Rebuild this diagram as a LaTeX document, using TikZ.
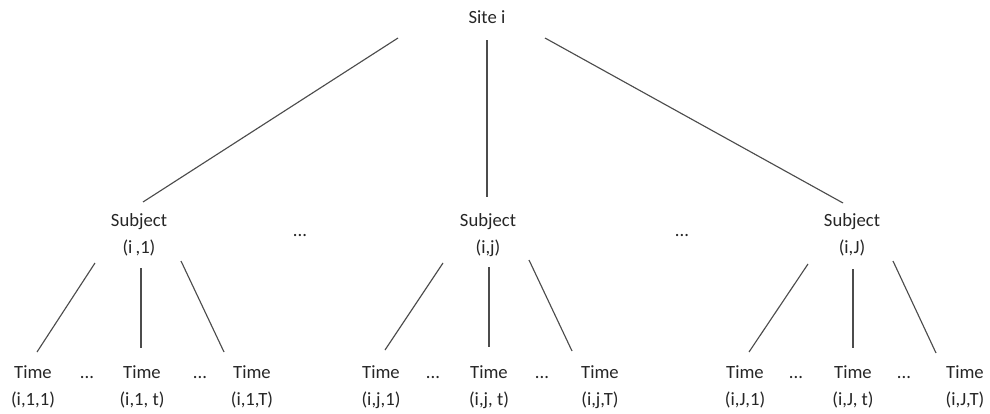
\documentclass[tikz,border=0pt]{standalone}
\usepackage{fontspec}
\setmainfont{Carlito}
\usetikzlibrary{calc}
\tikzstyle{lbl} = [align=center,font=\fontsize{14}{20}\selectfont,text=black!85,inner sep=1pt]
\tikzstyle{dots} = [font=\fontsize{14}{20}\selectfont,text=black!85,anchor=base,inner sep=0pt]
\tikzstyle{link} = [draw,gray!60!black,line width=0.85pt]

\begin{document}
\begin{tikzpicture}[x=0.75pt,y=-0.75pt]
            \useasboundingbox (0,0) rectangle (990,414);
            % root and subjects
            \node[lbl] (site) at (487,17) {Site i};
            \node[lbl] (subj1) at (139,235) {Subject\\(i\,,1)};
            \node[lbl] (subjj) at (488,235) {Subject\\(i,j)};
            \node[lbl] (subjJ) at (852,235) {Subject\\(i,J)};
            \node[dots] (sdots1) at (300,236) {...};
            \node[dots] (sdots2) at (682,236) {...};
            % time points
            \node[lbl] (t11) at (33,387) {Time\\(i,1,1)};
            \node[lbl] (t1t) at (142,387) {Time\\(i,1, t)};
            \node[lbl] (t1T) at (252,387) {Time\\(i,1,T)};
            \node[lbl] (tj1) at (381,387) {Time\\(i,j,1)};
            \node[lbl] (tjt) at (489,387) {Time\\(i,j, t)};
            \node[lbl] (tjT) at (600,387) {Time\\(i,j,T)};
            \node[lbl] (tJ1) at (745,387) {Time\\(i,J,1)};
            \node[lbl] (tJt) at (853,387) {Time\\(i,J, t)};
            \node[lbl] (tJT) at (965,387) {Time\\(i,J,T)};
            \node[dots] (tdots1) at (87,378) {...};
            \node[dots] (tdots2) at (200,378) {...};
            \node[dots] (tdots3) at (433,378) {...};
            \node[dots] (tdots4) at (542,378) {...};
            \node[dots] (tdots5) at (796,378) {...};
            \node[dots] (tdots6) at (904,378) {...};
            % site to subjects
            \path[link] ($(site)+(-89,21)$) -- ($(subj1)+(4,-33)$);
            \path[link] ($(site)+(0,23)$) -- ($(subjj)+(-1,-38)$);
            \path[link] ($(site)+(58,21)$) -- ($(subjJ)+(-9,-32)$);
            % subjects to time points
            \path[link] ($(subj1)+(-44,28)$) -- ($(t11)+(4,-35)$);
            \path[link] ($(subj1)+(2,33)$) -- ($(t1t)+(-1,-39)$);
            \path[link] ($(subj1)+(42,26)$) -- ($(t1T)+(-28,-35)$);
            \path[link] ($(subjj)+(-45,28)$) -- ($(tj1)+(4,-37)$);
            \path[link] ($(subjj)+(1,32)$) -- ($(tjt)+(0,-40)$);
            \path[link] ($(subjj)+(41,25)$) -- ($(tjT)+(-28,-36)$);
            \path[link] ($(subjJ)+(-44,29)$) -- ($(tJ1)+(4,-35)$);
            \path[link] ($(subjJ)+(1,34)$) -- ($(tJt)+(0,-39)$);
            \path[link] ($(subjJ)+(41,26)$) -- ($(tJT)+(-29,-34)$);
        \end{tikzpicture}
\end{document}
